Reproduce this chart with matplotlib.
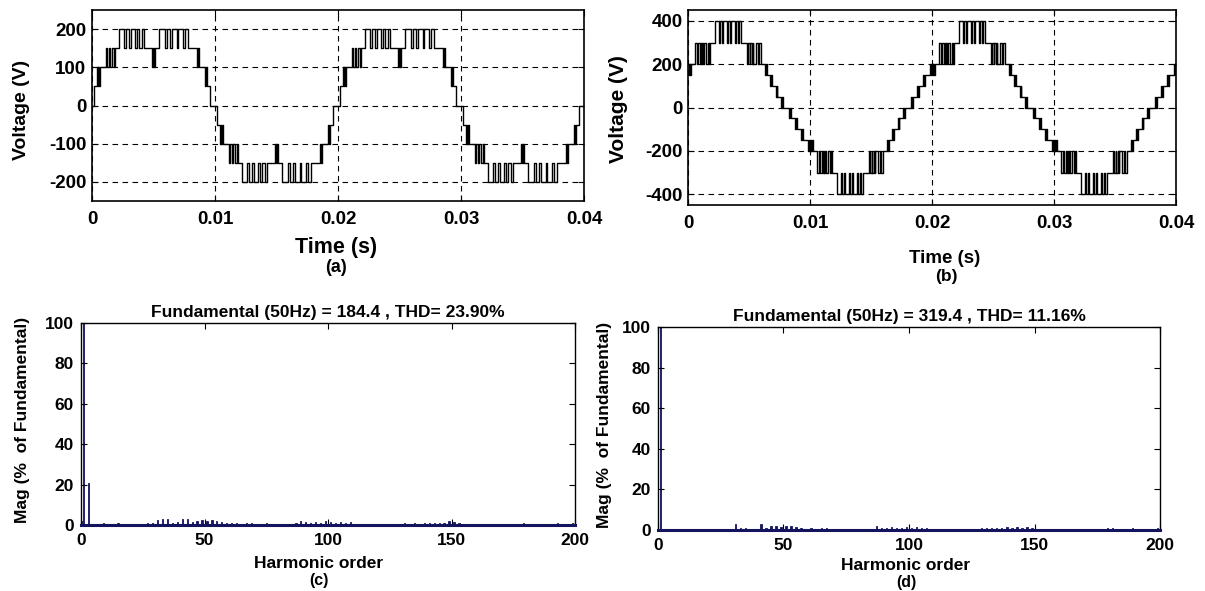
import numpy as np
import matplotlib
matplotlib.use('Agg')
import matplotlib.pyplot as plt

plt.rcParams['font.family'] = ['Liberation Sans', 'DejaVu Sans']
plt.rcParams['font.weight'] = 'bold'

# ---- waveform (a): one positive half-cycle, switching edges (ms, V)
half_a_t = [0.00, 0.19, 0.38, 0.45, 0.52, 0.60, 0.66, 1.14, 1.25, 1.35, 1.50, 1.62, 1.75, 1.87,
            2.22, 2.60, 2.76, 3.03, 3.17, 3.50, 3.63, 3.85, 4.04, 4.23, 4.85, 4.95, 5.05, 5.15,
            5.48, 5.94, 6.07, 6.34, 6.48, 6.88, 7.02, 7.37, 7.56, 7.83, 8.51, 8.60, 8.70, 9.19,
            9.30, 9.38, 9.59]
half_a_v = [0, 50, 100, 50, 100, 50, 100, 150, 100, 150, 100, 150, 100, 150,
            200, 150, 200, 150, 200, 150, 200, 150, 200, 150, 100, 150, 100, 150,
            200, 150, 200, 150, 200, 150, 200, 150, 200, 150, 100, 150, 100, 50,
            100, 50, 0]

# ---- waveform (b): positive half-cycle from its rising zero crossing (ms, V)
half_b_t = [0.00, 0.30, 0.38, 0.45, 0.80, 0.88, 0.95, 1.30, 1.38, 1.45, 1.85, 1.92, 2.00, 2.06,
            2.12, 2.18, 2.25, 2.60, 2.75, 2.85, 2.95, 3.05, 3.12, 3.18, 3.25, 3.35, 3.45, 3.60,
            3.70, 3.78, 4.20, 4.55, 4.65, 4.80, 4.90, 5.20, 5.30, 5.45, 5.55, 5.85, 5.95, 6.10,
            6.20, 6.35, 6.80, 6.90, 7.05, 7.12, 7.25, 7.30, 7.35, 7.55, 7.70, 7.80, 7.95, 8.30,
            8.38, 8.45, 8.75, 8.82, 8.88, 9.20, 9.26, 9.32, 9.65, 9.72, 9.78]
half_b_v = [0, 50, 0, 50, 100, 50, 100, 150, 100, 150, 200, 150, 200, 150,
            200, 150, 200, 300, 200, 300, 200, 300, 200, 300, 200, 300, 200, 300,
            200, 300, 400, 300, 400, 300, 400, 300, 400, 300, 400, 300, 400, 300,
            400, 300, 200, 300, 200, 300, 200, 300, 200, 300, 200, 300, 200, 150,
            200, 150, 100, 150, 100, 50, 100, 50, 0, 50, 0]
b_offset = -2.0  # rising zero crossing of (b), ms

# ---- spectra: odd harmonics 1..199, magnitude in % of fundamental
odd_h = list(range(1, 200, 2))
mag_c = [100, 21, 0.3, 0.2, 1.0, 0.3, 0.2, 0.8, 0.2, 0.3,
         0.2, 0.3, 0.2, 0.8, 1.2, 2.6, 3.2, 2.8, 1.0, 1.4,
         3.0, 2.8, 1.6, 2.0, 2.4, 1.8, 2.6, 2.2, 1.4, 1.0,
         0.8, 1.0, 0.6, 0.9, 1.1, 0.7, 0.6, 0.8, 0.3, 0.2,
         0.3, 0.4, 0.7, 1.0, 2.0, 1.6, 1.2, 1.5, 1.0, 1.8,
         1.4, 1.2, 1.6, 0.9, 1.3, 0.5, 0.4, 0.6, 0.5, 0.7,
         0.5, 0.6, 0.7, 0.5, 0.6, 0.8, 0.6, 0.9, 0.7, 0.8,
         1.0, 0.8, 0.9, 1.2, 1.8, 1.4, 0.8, 0.6, 0.4, 0.3,
         0.2, 0.3, 0.2, 0.3, 0.2, 0.3, 0.4, 0.6, 0.5, 0.8,
         0.6, 0.4, 0.7, 0.5, 0.6, 0.4, 0.8, 0.5, 0.7, 0.9]
mag_d = [100, 0.2, 0.2, 0.2, 0.2, 0.2, 0.2, 0.2, 0.2, 0.2,
         0.2, 0.2, 0.2, 0.2, 0.3, 2.8, 0.9, 1.2, 0.5, 0.6,
         2.8, 1.0, 1.8, 2.0, 1.4, 1.8, 2.0, 1.6, 1.0, 0.7,
         1.2, 0.6, 0.8, 0.9, 0.5, 0.3, 0.3, 0.3, 0.3, 0.6,
         0.5, 0.3, 0.4, 1.8, 1.2, 1.0, 1.4, 0.8, 1.2, 1.4,
         1.0, 1.5, 0.8, 1.2, 0.6, 0.4, 0.3, 0.5, 0.4, 0.6,
         0.3, 0.5, 0.4, 0.6, 0.8, 1.0, 0.8, 1.2, 0.9, 1.4,
         1.2, 1.5, 1.1, 1.6, 0.8, 0.5, 0.3, 0.2, 0.3, 0.2,
         0.4, 0.3, 0.2, 0.3, 0.2, 0.3, 0.3, 0.4, 0.6, 1.0,
         0.8, 0.3, 0.4, 0.5, 0.8, 0.4, 0.7, 0.3, 0.5, 0.9]
dc_c, dc_d = 2.0, 0.5

title_c = 'Fundamental (50Hz) = 184.4 , THD= 23.90%'
title_d = 'Fundamental (50Hz) = 319.4 , THD= 11.16%'

W, H = 1205, 591
NAVY = '#14145e'


def build_wave(ht, hv, start, t_end=40.0):
    ts, vs = [], []
    k = 0
    while start + 10 * k < t_end:
        s = 1 if k % 2 == 0 else -1
        for t, v in zip(ht, hv):
            ts.append(start + 10 * k + t)
            vs.append(s * v)
        k += 1
    ts, vs = np.array(ts), np.array(vs)
    first = vs[ts <= 0][-1] if np.any(ts <= 0) else vs[0]
    keep = (ts > 0) & (ts < t_end)
    ts = np.concatenate([[0.0], ts[keep], [t_end]])
    vs = np.concatenate([[first], vs[keep], [vs[keep][-1]]])
    return ts / 1000.0, vs


def box(l, r, t, b):
    return [l / W, 1 - b / H, (r - l) / W, (b - t) / H]


def ftext(x, y, s, **kw):
    fig.text(x / W, 1 - y / H, s, ha='center', va='center', fontweight='bold', **kw)


fig = plt.figure(figsize=(12.05, 5.91), dpi=100)

# waveforms
wave_axes = [
    (box(92, 584, 10, 201), build_wave(half_a_t, half_a_v, 0.0), 250, [-200, -100, 0, 100, 200]),
    (box(688, 1176, 10, 205), build_wave(half_b_t, half_b_v, b_offset), 450, [-400, -200, 0, 200, 400]),
]
for pos, (t, v), lim, yt in wave_axes:
    ax = fig.add_axes(pos)
    ax.plot(t, v, drawstyle='steps-post', color='black', lw=1.0)
    ax.set_xlim(0, 0.04)
    ax.set_ylim(-lim, lim)
    ax.set_xticks([0, 0.01, 0.02, 0.03, 0.04])
    ax.set_xticklabels(['0', '0.01', '0.02', '0.03', '0.04'])
    ax.set_yticks(yt)
    ax.set_yticklabels([str(y) for y in yt])
    ax.grid(True, color='black', ls=(0, (5, 4)), lw=0.8)
    ax.tick_params(direction='in', top=True, right=True, length=4, labelsize=13.5)
    ax.tick_params(axis='x', pad=7)
    ax.tick_params(axis='y', pad=4)
    for sp in ax.spines.values():
        sp.set_linewidth(1.2)

ftext(22, 110, 'Voltage (V)', rotation=90, fontsize=14)
ftext(336, 247, 'Time (s)', fontsize=15.5)
ftext(336, 267, '(a)', fontsize=13)
ftext(619, 109, 'Voltage (V)', rotation=90, fontsize=15)
ftext(945, 259, 'Time (s)', fontsize=13.5)
ftext(946, 277, '(b)', fontsize=12.5)

# spectra
spec_axes = [
    (box(81, 575, 323, 525), dc_c, mag_c, title_c),
    (box(658, 1160, 327, 530), dc_d, mag_d, title_d),
]
for pos, dc, mag, title in spec_axes:
    ax = fig.add_axes(pos)
    ax.bar([0] + odd_h, [dc] + mag, width=0.5, color=NAVY, edgecolor=NAVY, lw=0.6)
    ax.set_xlim(0, 200)
    ax.set_ylim(0, 100)
    ax.set_xticks([0, 50, 100, 150, 200])
    ax.set_yticks([0, 20, 40, 60, 80, 100])
    ax.tick_params(direction='in', top=True, right=True, length=4, labelsize=12.5)
    ax.tick_params(axis='x', pad=6)
    ax.tick_params(axis='y', pad=5)
    ax.set_title(title, fontsize=12.5, fontweight='bold', pad=4)
    for sp in ax.spines.values():
        sp.set_linewidth(1.0)
    ax.spines['bottom'].set_color(NAVY)
    ax.spines['bottom'].set_linewidth(2.2)

ftext(23, 420, 'Mag (%  of Fundamental)', rotation=90, fontsize=12.5)
ftext(319, 563, 'Harmonic order', fontsize=12.5)
ftext(319, 580, '(c)', fontsize=11.5)
ftext(604, 425, 'Mag (%  of Fundamental)', rotation=90, fontsize=12.5)
ftext(906, 566, 'Harmonic order', fontsize=12.5)
ftext(906, 582, '(d)', fontsize=11.5)

fig.savefig('out.png', dpi=100)
